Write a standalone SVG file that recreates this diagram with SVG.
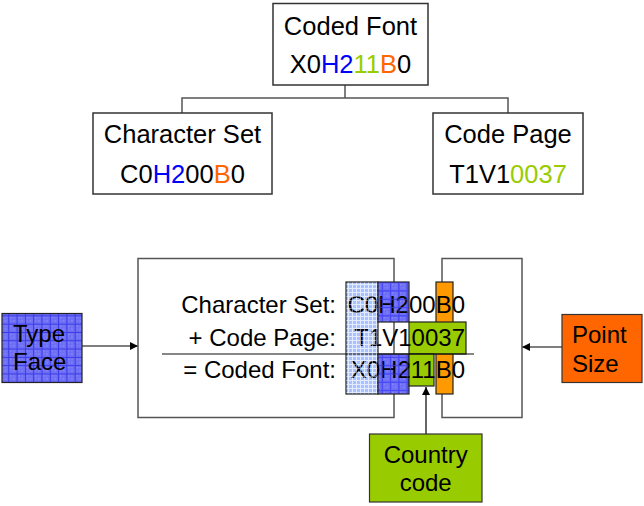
<svg xmlns="http://www.w3.org/2000/svg" width="644" height="506" viewBox="0 0 644 506">
  <style>
    text { font-family: "Liberation Sans", Arial, sans-serif; fill: #000; }
    .big { font-size: 25.5px; }
    .mid { font-size: 24px; }
    .box { fill: #fff; stroke: #333; stroke-width: 1.5; }
    .frame { fill: #fff; stroke: #555; stroke-width: 1.5; }
    .link { fill: none; stroke: #555; stroke-width: 1.5; }
    .arrow { fill: none; stroke: #000; stroke-width: 1.2; marker-end: url(#head); }
    .blue { fill: #0000ff; }
    .green { fill: #99cc00; }
    .orange { fill: #ff6600; }
    .edge { stroke: #222; stroke-width: 1.2; }
  </style>
  <defs>
    <marker id="head" viewBox="0 0 10 10" refX="10" refY="5" markerWidth="8" markerHeight="8" markerUnits="userSpaceOnUse" orient="auto">
      <path d="M0,0 L10,5 L0,10 Z" fill="#000"/>
    </marker>
    <!-- medium blue fill with a darker grid and light speckle -->
    <pattern id="gridBlue" width="8.3" height="8.3" patternUnits="userSpaceOnUse">
      <rect width="8.3" height="8.3" fill="#6e6ef4"/>
      <rect x="2" y="2" width="1" height="1" fill="#a8a8ff"/>
      <rect x="5" y="5" width="1" height="1" fill="#a8a8ff"/>
      <rect x="5" y="2" width="1" height="1" fill="#8c8cff"/>
      <rect x="2" y="5" width="1" height="1" fill="#8c8cff"/>
      <path d="M0,0.5 H8.3 M0.5,0 V8.3" stroke="#3a3ae8" stroke-width="1"/>
    </pattern>
    <!-- pale blue fill with a fine white grid -->
    <pattern id="gridPale" width="4" height="4" patternUnits="userSpaceOnUse">
      <rect width="4" height="4" fill="#a9c2ff"/>
      <path d="M0,0.5 H4 M0.5,0 V4" stroke="#e6eeff" stroke-width="1"/>
    </pattern>
    <!-- grid lines only, laid over the code letters -->
    <pattern id="overBlue" width="8.3" height="8.3" patternUnits="userSpaceOnUse">
      <path d="M0,0.5 H8.3 M0.5,0 V8.3" stroke="#5050ff" stroke-width="1" opacity="0.6"/>
    </pattern>
    <pattern id="overPale" width="4" height="4" patternUnits="userSpaceOnUse">
      <path d="M0,0.5 H4 M0.5,0 V4" stroke="#dfe8ff" stroke-width="1" opacity="0.5"/>
    </pattern>
  </defs>

  <!-- connectors -->
  <g id="connectors">
    <path class="link" d="M345,85 V98 M182,113 V98 H508 V113"/>
    <line class="arrow" x1="82" y1="346" x2="138" y2="346"/>
    <line class="arrow" x1="562" y1="347" x2="522" y2="347"/>
    <line class="arrow" x1="426" y1="434" x2="426" y2="387"/>
  </g>

  <!-- top hierarchy -->
  <g id="coded-font">
    <rect class="box" x="273" y="3.5" width="155" height="81.5"/>
    <text class="big" x="350.5" y="35" text-anchor="middle">Coded Font</text>
    <text class="big" x="350.5" y="73" text-anchor="middle">X0<tspan class="blue">H2</tspan><tspan class="green">11</tspan><tspan class="orange">B</tspan>0</text>
  </g>
  <g id="character-set">
    <rect class="box" x="93" y="113" width="179" height="81"/>
    <text class="big" x="182.5" y="143" text-anchor="middle">Character Set</text>
    <text class="big" x="182.5" y="183" text-anchor="middle">C0<tspan class="blue">H2</tspan>00<tspan class="orange">B</tspan>0</text>
  </g>
  <g id="code-page">
    <rect class="box" x="433" y="113" width="150" height="81"/>
    <text class="big" x="508" y="143" text-anchor="middle">Code Page</text>
    <text class="big" x="508" y="183" text-anchor="middle">T1V1<tspan class="green">0037</tspan></text>
  </g>

  <!-- composition panel -->
  <g id="composition">
    <rect class="frame" x="138" y="258.5" width="256" height="159"/>
    <rect class="frame" x="442" y="258.5" width="80" height="159"/>

    <rect class="edge" x="346" y="282" width="32" height="112" fill="url(#gridPale)"/>
    <rect class="edge" x="378" y="282" width="31" height="40" fill="url(#gridBlue)"/>
    <rect class="edge" x="378" y="354" width="31" height="40" fill="url(#gridBlue)"/>
    <rect class="edge" x="436" y="282" width="17" height="112" fill="#ff9900"/>
    <rect class="edge" x="409" y="322" width="57" height="32" fill="#99cc00"/>
    <rect class="edge" x="409" y="354" width="25" height="32" fill="#99cc00"/>

    <line x1="162" y1="354" x2="474" y2="354" stroke="#111" stroke-width="1.2"/>

    <text class="mid" x="336" y="313" text-anchor="end">Character Set:</text>
    <text class="mid" x="336" y="346" text-anchor="end">+ Code Page:</text>
    <text class="mid" x="336" y="378" text-anchor="end">= Coded Font:</text>
    <text class="mid" x="465" y="313" text-anchor="end">C0H200B0</text>
    <text class="mid" x="465" y="346" text-anchor="end">T1V10037</text>
    <text class="mid" x="465" y="378" text-anchor="end">X0H211B0</text>

    <rect x="346.6" y="282.6" width="30.8" height="110.8" fill="url(#overPale)"/>
    <rect x="378.6" y="282.6" width="29.8" height="38.8" fill="url(#overBlue)"/>
    <rect x="378.6" y="354.6" width="29.8" height="38.8" fill="url(#overBlue)"/>
  </g>

  <g id="type-face">
    <rect class="edge" x="2" y="313.5" width="80" height="69" fill="url(#gridBlue)" stroke="#333"/>
    <text class="mid" x="13" y="342">Type</text>
    <text class="mid" x="13" y="370">Face</text>
  </g>
  <g id="point-size">
    <rect x="562" y="314.5" width="80" height="68" fill="#ff6600" stroke="#333" stroke-width="1.2"/>
    <text class="mid" x="572" y="343">Point</text>
    <text class="mid" x="572" y="372">Size</text>
  </g>
  <g id="country-code">
    <rect x="369.5" y="434" width="112.5" height="68" fill="#99cc00" stroke="#333" stroke-width="1.2"/>
    <text class="mid" x="425.7" y="463" text-anchor="middle">Country</text>
    <text class="mid" x="425.7" y="491" text-anchor="middle">code</text>
  </g>
</svg>
